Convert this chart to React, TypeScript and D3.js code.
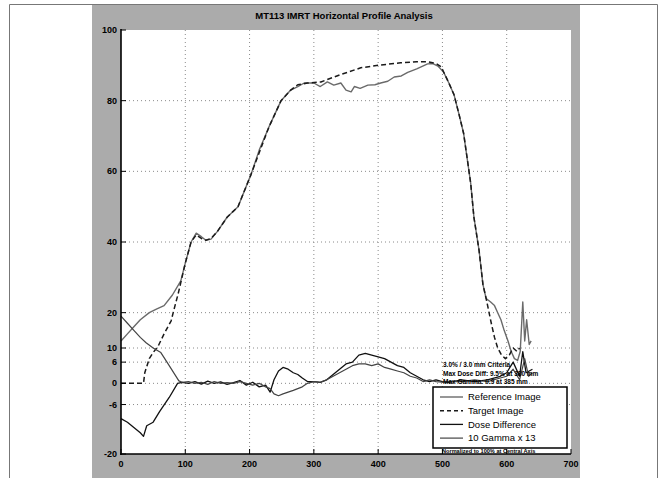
import React from 'react';
import * as d3 from 'd3';

// profile data (x in mm, y in %)
const refX = [0, 10, 20, 30, 44, 55, 67, 80, 93, 100, 109, 117, 125, 132, 140, 150, 165, 182, 202, 215, 230, 249, 264, 275, 285, 300, 310, 321, 331, 342, 350, 358, 363, 372, 384, 395, 404, 415, 425, 436, 446, 460, 477, 485, 493, 502, 510, 518, 526, 533, 544, 549, 557, 563, 568, 575, 581, 586, 591, 596, 602, 607, 612, 617, 621, 625, 628, 631, 635, 638];
const refY = [12, 14, 16, 18, 20, 21, 22, 25, 29, 34, 40, 42.5, 41.5, 40.5, 40.8, 43, 47, 50, 59, 66, 72.5, 80, 83, 84, 85, 85, 84, 85.3, 84.4, 85, 83, 82.5, 84, 83.5, 84.4, 84.5, 85, 85.5, 86.7, 87, 88, 89, 90.4, 90.5, 89.8, 88, 85, 81.7, 76, 70.7, 56.6, 47, 37.6, 28, 24, 23, 22, 20, 18, 15, 12, 9, 7, 6.5, 9, 23, 12, 18, 11, 12];

const tgtX = [0, 20, 35, 37, 44, 50, 58, 67, 78, 82, 89, 93, 100, 109, 117, 125, 132, 140, 150, 165, 182, 202, 230, 249, 264, 275, 290, 311, 342, 373, 404, 435, 460, 477, 490, 498, 510, 518, 526, 533, 544, 549, 557, 563, 568, 576, 581, 586, 592, 598, 604, 610, 616, 620];
const tgtY = [0, 0, 0, 3, 7, 8.7, 10.6, 14, 17.7, 20.6, 25.4, 28.5, 34, 40, 42, 41, 40.5, 41, 43, 47, 50, 59, 72.5, 80, 83, 84.5, 85, 85.3, 87.4, 89.3, 90.1, 90.7, 91, 91, 90.5, 89.6, 85, 81.7, 76, 70.7, 56.6, 47, 37.6, 28, 24, 17, 13, 10, 8, 7, 8, 10, 9, 10];

const diffX = [0, 10, 20, 30, 35, 40, 50, 60, 75, 88, 95, 105, 115, 125, 135, 145, 155, 165, 175, 185, 195, 205, 215, 225, 232, 238, 245, 252, 260, 268, 275, 282, 290, 300, 310, 320, 330, 340, 350, 360, 370, 380, 390, 400, 410, 420, 430, 440, 450, 460, 470, 480, 490, 500, 510, 530, 550, 570, 590, 600, 610, 620, 625, 630, 640];
const diffY = [-10, -11, -12.5, -14, -15, -12, -11, -8, -4, 0, 0.3, 0, 0.5, -0.2, 0.6, 0, 0.4, -0.3, 0.2, 0.8, -0.5, 0.3, -1, -0.5, -2.5, 1, 3.5, 4.5, 4, 3, 2.5, 1.5, 0.5, 0.5, 0.3, 1, 2.5, 4, 5.5, 6, 8, 8.5, 8, 7.5, 7, 6, 5, 4.5, 3, 2, 1, 0.5, 1, 0.5, 0.3, 1, 0.5, 1, 2, 3, 6, 2, 9, 3, 4];

const gamX = [0, 10, 20, 30, 39, 50, 62, 75, 90, 95, 105, 115, 125, 135, 145, 155, 165, 175, 185, 195, 205, 215, 225, 232, 238, 245, 252, 260, 268, 275, 282, 290, 300, 310, 320, 330, 340, 350, 360, 370, 380, 390, 400, 410, 420, 430, 440, 450, 460, 470, 480, 490, 500, 510, 530, 550, 570, 590, 600, 610, 620, 628, 634, 640];
const gamY = [19, 17, 15, 13, 11.5, 10, 8.7, 5, 0.7, 0.3, 0.5, 0, 0.3, -0.3, 0.5, 0, 0.2, 0, 0.5, 0, -0.5, 0, -1, -1.5, -3, -3.5, -3, -2.5, -2, -1.5, -1, 0, 0.5, 0.3, 1, 2, 3, 4, 5, 5.5, 5.5, 5, 5.5, 4.5, 4, 3.5, 3, 2, 1.5, 0.5, 1, 0.5, 0.3, 0.5, 0.5, 1, 0.5, 1.5, 2, 4, 1, 7, 2, 3];

const xTicks = [0, 100, 200, 300, 400, 500, 600, 700];
const yTicks = [100, 80, 60, 40, 20, 10, 6, 0, -6, -20];

const legendNames = ['Reference Image', 'Target Image', 'Dose Difference', '10 Gamma x 13'];
const noteLines = [
  '3.0% / 3.0 mm Criteria',
  'Max Dose Diff: 9.5% at 380 mm',
  'Max Gamma: 0.9 at 385 mm',
];
const footNote = 'Normalized to 100% at Central Axis';

const W = 663;
const H = 478;
const font = '"Liberation Sans", Arial, sans-serif';

export default function App() {
  const x = d3.scaleLinear().domain([0, 700]).range([121, 571]);
  const y = d3.scaleLinear().domain([-20, 100]).range([454, 30]);

  const mk = (xs: number[], ys: number[]) =>
    d3.line<number>().x((_, i) => x(xs[i])).y((_, i) => y(ys[i]))(ys.map((_, i) => i)) || '';

  const series = [
    { name: legendNames[0], d: mk(refX, refY), color: '#6a6a6a', dash: '', w: 1.4 },
    { name: legendNames[1], d: mk(tgtX, tgtY), color: '#1a1a1a', dash: '5,3', w: 1.5 },
    { name: legendNames[2], d: mk(diffX, diffY), color: '#111', dash: '', w: 1.3 },
    { name: legendNames[3], d: mk(gamX, gamY), color: '#444', dash: '', w: 1.2 },
  ];

  const lg = { x: 433, y: 387, w: 134, h: 61 };

  return (
    <svg width={W} height={H} style={{ position: 'absolute', left: 0, top: 0, background: '#fff' }}>
      {/* outer frame */}
      <path d={`M9.5,${H} V4.5 H657.5 V${H}`} fill="none" stroke="#777" strokeWidth={1} />
      {/* figure background */}
      <rect x={92} y={5} width={488} height={H - 5} fill="#ababab" />
      {/* axes area */}
      <rect x={121} y={30} width={450} height={424} fill="#fff" />

      {/* grid */}
      {xTicks.slice(1, -1).map((t) => (
        <line key={'gx' + t} x1={x(t)} x2={x(t)} y1={30} y2={454} stroke="#8a8a8a" strokeWidth={1} strokeDasharray="1,3" />
      ))}
      {yTicks.slice(1, -1).map((t) => (
        <line key={'gy' + t} x1={121} x2={571} y1={y(t)} y2={y(t)} stroke="#8a8a8a" strokeWidth={1} strokeDasharray="1,3" />
      ))}

      {/* curves */}
      {series.map((s) => (
        <path key={s.name} d={s.d} fill="none" stroke={s.color} strokeWidth={s.w} strokeDasharray={s.dash} strokeLinejoin="round" />
      ))}

      {/* axis lines */}
      <line x1={121} x2={121} y1={29} y2={455} stroke="#000" strokeWidth={1.6} />
      <line x1={120} x2={571} y1={454} y2={454} stroke="#000" strokeWidth={1.6} />
      {yTicks.map((t) => (
        <g key={'yt' + t}>
          <line x1={121} x2={126} y1={y(t)} y2={y(t)} stroke="#000" strokeWidth={1} />
          <text x={117} y={y(t)} dy="0.35em" textAnchor="end" fontFamily={font} fontWeight="bold" fontSize={9} fill="#000">
            {t}
          </text>
        </g>
      ))}
      {xTicks.map((t) => (
        <g key={'xt' + t}>
          <line x1={x(t)} x2={x(t)} y1={454} y2={449} stroke="#000" strokeWidth={1} />
          <text x={x(t)} y={467} textAnchor="middle" fontFamily={font} fontWeight="bold" fontSize={9} fill="#000">
            {t}
          </text>
        </g>
      ))}

      {/* title */}
      <text x={344} y={19} textAnchor="middle" fontFamily={font} fontWeight="bold" fontSize={9.5} fill="#000">
        MT113 IMRT Horizontal Profile Analysis
      </text>

      {/* notes above legend */}
      {noteLines.map((n, i) => (
        <text key={n} x={443} y={367 + i * 8.5} fontFamily={font} fontWeight="bold" fontSize={6.5} fill="#000">
          {n}
        </text>
      ))}

      {/* legend */}
      <rect x={lg.x} y={lg.y} width={lg.w} height={lg.h} fill="#fff" stroke="#000" strokeWidth={1.5} />
      {series.map((s, i) => {
        const ly = 397 + i * 13.7;
        return (
          <g key={'lg' + s.name}>
            <line x1={440} x2={463} y1={ly} y2={ly} stroke={s.color} strokeWidth={s.w} strokeDasharray={s.dash ? '4,3' : ''} />
            <text x={468} y={ly} dy="0.35em" fontFamily={font} fontSize={9.5} fill="#000">
              {s.name}
            </text>
          </g>
        );
      })}
      <text x={442} y={453} fontFamily={font} fontWeight="bold" fontSize={5.6} fill="#000">
        {footNote}
      </text>
    </svg>
  );
}
